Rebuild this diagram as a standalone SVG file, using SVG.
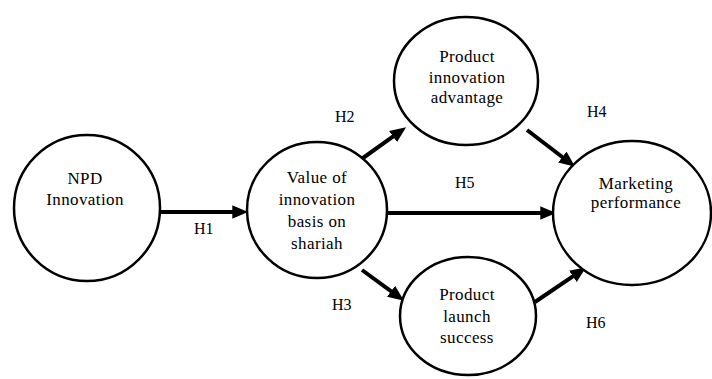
<svg xmlns="http://www.w3.org/2000/svg" width="712" height="379" viewBox="0 0 712 379">
<style>
.node{fill:#fff;stroke:#000;stroke-width:2.5}
text{font-family:'Liberation Serif','Times New Roman','DejaVu Serif',serif;fill:#000}
.t{font-size:17px;text-anchor:middle;letter-spacing:0.4px}
.h{font-size:16px}
.c{stroke:#000;stroke-width:4;fill:none;marker-end:url(#ah)}
</style>
<defs>
<marker id="ah" markerUnits="userSpaceOnUse" markerWidth="16" markerHeight="14" refX="5" refY="6" orient="auto" viewBox="0 0 14 12">
<path d="M0,0 L14,6 L0,12 z" fill="#000"/>
</marker>
</defs>
<rect width="712" height="379" fill="#fff"/>
<g id="connectors">
<line class="c" x1="160" y1="212" x2="238" y2="212"/>
<line class="c" x1="387" y1="213" x2="546" y2="213"/>
<line class="c" x1="363" y1="158" x2="397.7" y2="133.2"/>
<line class="c" x1="362" y1="270" x2="395.7" y2="294.7"/>
<line class="c" x1="527" y1="130" x2="566.9" y2="160.5"/>
<line class="c" x1="535" y1="302" x2="577.6" y2="273.1"/>
</g>
<g id="labels">
<text class="h" x="194" y="234">H1</text>
<text class="h" x="335" y="122">H2</text>
<text class="h" x="332" y="310">H3</text>
<text class="h" x="587" y="117">H4</text>
<text class="h" x="455" y="188">H5</text>
<text class="h" x="586" y="328">H6</text>
</g>
<g id="npd">
<ellipse class="node" cx="87" cy="208" rx="73" ry="73"/>
<text class="t" x="85" y="184">NPD</text>
<text class="t" x="85" y="205">Innovation</text>
</g>
<g id="value">
<ellipse class="node" cx="317" cy="210" rx="70" ry="68"/>
<text class="t" x="317" y="183">Value of</text>
<text class="t" x="317" y="205">innovation</text>
<text class="t" x="317" y="227">basis on</text>
<text class="t" x="317" y="249">shariah</text>
</g>
<g id="pia">
<ellipse class="node" cx="466" cy="81" rx="72" ry="64"/>
<text class="t" x="467" y="62">Product</text>
<text class="t" x="467" y="83">innovation</text>
<text class="t" x="467" y="103">advantage</text>
</g>
<g id="pls">
<ellipse class="node" cx="468" cy="316" rx="68" ry="59"/>
<text class="t" x="467" y="300">Product</text>
<text class="t" x="467" y="322">launch</text>
<text class="t" x="467" y="343">success</text>
</g>
<g id="mp">
<ellipse class="node" cx="632" cy="213" rx="79" ry="72"/>
<text class="t" x="636" y="189">Marketing</text>
<text class="t" x="636" y="208">performance</text>
</g>
</svg>
